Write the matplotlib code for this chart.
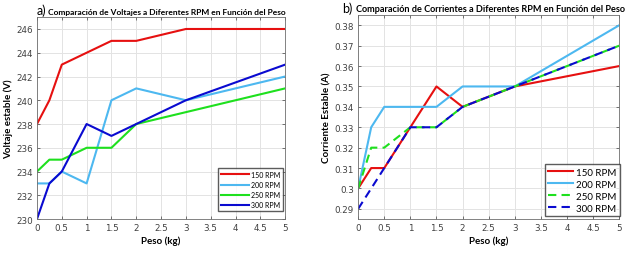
import matplotlib.pyplot as plt

peso = [0, 0.25, 0.5, 1, 1.5, 2, 3, 5]

# voltaje estable (V)
v150 = [238, 240, 243, 244, 245, 245, 246, 246]
v200 = [233, 233, 234, 233, 240, 241, 240, 242]
v250 = [234, 235, 235, 236, 236, 238, 239, 241]
v300 = [230, 233, 234, 238, 237, 238, 240, 243]

# corriente estable (A)
i150 = [0.30, 0.31, 0.31, 0.33, 0.35, 0.34, 0.35, 0.36]
i200 = [0.30, 0.33, 0.34, 0.34, 0.34, 0.35, 0.35, 0.38]
i250 = [0.30, 0.32, 0.32, 0.33, 0.33, 0.34, 0.35, 0.37]
i300 = [0.29, 0.30, 0.31, 0.33, 0.33, 0.34, 0.35, 0.37]

labels = ['150 RPM', '200 RPM', '250 RPM', '300 RPM']
colors = ['#e61010', '#4db8f0', '#1ee01e', '#0a0ad0']

titleFont = 'Lato'
tickColor = '#404040'

fig = plt.figure(figsize=(6.43, 2.55), dpi=100)
ax1 = fig.add_axes([0.0575, 0.137, 0.386, 0.792])
ax2 = fig.add_axes([0.557, 0.137, 0.406, 0.800])

def style(ax):
    ax.set_xlim(0, 5)
    ax.set_xticks([0, 0.5, 1, 1.5, 2, 2.5, 3, 3.5, 4, 4.5, 5])
    ax.set_xticklabels(['0', '0.5', '1', '1.5', '2', '2.5', '3', '3.5', '4', '4.5', '5'])
    ax.grid(True, color='#e3e3e3', linewidth=0.7)
    ax.set_axisbelow(True)
    ax.tick_params(labelsize=6.3, colors=tickColor, length=2, width=0.5, direction='in',
                   top=True, right=True, pad=3)
    for s in ax.spines.values():
        s.set_color('#6e6e6e')
        s.set_linewidth(0.6)
    ax.set_xlabel('Peso (kg)', family=titleFont, fontweight='bold', fontsize=7, labelpad=2)

# a) voltajes
for y, lab, c in zip([v150, v200, v250, v300], labels, colors):
    ax1.plot(peso, y, color=c, linewidth=1.5, label=lab)
style(ax1)
ax1.set_ylim(230, 247)
ax1.set_yticks(range(230, 247, 2))
ax1.set_ylabel('Voltaje estable (V)', family=titleFont, fontweight='bold', fontsize=7, labelpad=2)
ax1.legend(loc='lower right', prop={'family': titleFont, 'size': 5},
           frameon=True, fancybox=False, edgecolor='#333333', handlelength=4.0,
           borderpad=0.4, labelspacing=0.45, handletextpad=0.3, borderaxespad=0,
           bbox_to_anchor=(0.99, 0.04))
ax1.text(0.0, 1.005, 'a)', transform=ax1.transAxes, fontsize=9, family=titleFont, va='bottom', ha='left')
ax1.text(0.045, 1.012, 'Comparación de Voltajes a Diferentes RPM en Función del Peso', transform=ax1.transAxes,
         fontsize=6.0, family=titleFont, fontweight='bold', va='bottom', ha='left')

# b) corrientes
styles = ['-', '-', (0, (4, 2.5)), (0, (4, 2.5))]
for y, lab, c, ls in zip([i150, i200, i250, i300], labels, colors, styles):
    ax2.plot(peso, y, color=c, linewidth=1.5, linestyle=ls, label=lab)
style(ax2)
ax2.set_ylim(0.285, 0.385)
ax2.set_yticks([0.29, 0.30, 0.31, 0.32, 0.33, 0.34, 0.35, 0.36, 0.37, 0.38])
ax2.set_yticklabels(['0.29', '0.3', '0.31', '0.32', '0.33', '0.34', '0.35', '0.36', '0.37', '0.38'])
ax2.set_ylabel('Corriente Estable (A)', family=titleFont, fontweight='bold', fontsize=7, labelpad=2)
ax2.legend(loc='lower right', prop={'family': titleFont, 'size': 7},
           frameon=True, fancybox=False, edgecolor='#333333', handlelength=2.6,
           borderpad=0.35, labelspacing=0.3, handletextpad=0.3, borderaxespad=0,
           bbox_to_anchor=(1.003, 0.015))
ax2.text(-0.062, 1.005, 'b)', transform=ax2.transAxes, fontsize=9, family=titleFont, va='bottom', ha='left')
ax2.text(-0.007, 1.012, 'Comparación de Corrientes a Diferentes RPM en Función del Peso', transform=ax2.transAxes,
         fontsize=6.6, family=titleFont, fontweight='bold', va='bottom', ha='left')

fig.savefig('out.png', dpi=100)
